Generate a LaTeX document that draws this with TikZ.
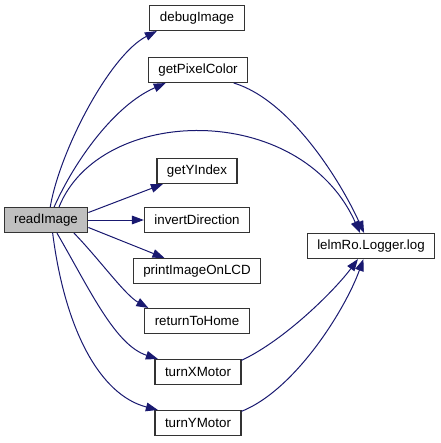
\documentclass[tikz,border=0pt]{standalone}
\usepackage{fontspec}
\setmainfont{Liberation Sans}
\usepackage{tikz}
\usetikzlibrary{arrows.meta}
\definecolor{edgeblue}{HTML}{191970}
\newcommand{\fnode}[3]{\node(#1)[fn] at (#2) {#3}}

\begin{document}
\begin{tikzpicture}[
        x=0.75pt, y=-0.75pt,
        every node/.style={font=\fontsize{10}{12}\selectfont},
        fn/.style={rectangle,draw=black!80,line width=0.8pt,fill=white,
                   minimum height=18.75pt,inner xsep=7.5pt,inner ysep=0pt},
        root/.style={fill=black!25},
        call/.style={draw=edgeblue,line width=0.75pt,
                     -{Triangle[length=9pt,width=6.5pt]}}
      ]
      \useasboundingbox (0,0) rectangle (440,443);
      \node(readImage)[fn,root] at (46,220) {readImage};
      \fnode{debugImage}{197,18}{debugImage};
      \fnode{getPixelColor}{198,70}{getPixelColor};
      \fnode{getYIndex}{197,171}{getYIndex};
      \fnode{invertDirection}{197,220}{invertDirection};
      \fnode{printImageOnLCD}{197,271}{printImageOnLCD};
      \fnode{returnToHome}{197,321}{returnToHome};
      \fnode{turnXMotor}{198,372}{turnXMotor};
      \fnode{turnYMotor}{198,423}{turnYMotor};
      \fnode{log}{371,246}{lelmRo.Logger.log};

      \draw[call] (readImage.72) .. controls (60,150) and (110,55) .. (debugImage.198);
      \draw[call] (readImage.58) .. controls (75,160) and (115,105) .. (getPixelColor.202);
      \draw[call] (readImage.45) .. controls (100,105) and (300,100) .. (log.130);
      \draw[call] (readImage.10) -- (getYIndex);
      \draw[call] (readImage) -- (invertDirection);
      \draw[call] (readImage.-10) -- (printImageOnLCD);
      \draw[call] (readImage.-25) .. controls (100,260) and (125,295) .. (returnToHome.165);
      \draw[call] (readImage.-50) .. controls (90,290) and (115,345) .. (turnXMotor.162);
      \draw[call] (readImage.-63) .. controls (65,330) and (100,395) .. (turnYMotor.162);
      \draw[call] (getPixelColor.-20) .. controls (290,100) and (340,180) .. (log.118);
      \draw[call] (turnXMotor.15) .. controls (285,340) and (335,290) .. (log.-135);
      \draw[call] (turnYMotor.15) .. controls (295,390) and (345,310) .. (log.-120);

    \end{tikzpicture}
\end{document}
